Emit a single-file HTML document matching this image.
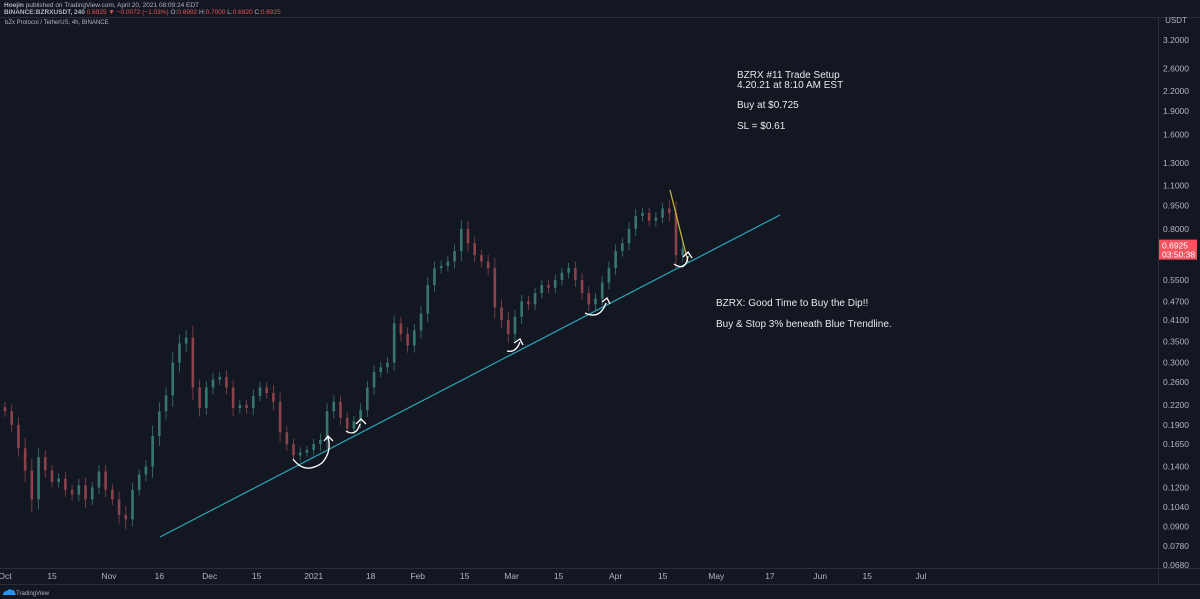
<!DOCTYPE html>
<html><head><meta charset="utf-8">
<style>
html,body{margin:0;padding:0;background:#131722;}
body{width:1200px;height:599px;overflow:hidden;font-family:"Liberation Sans",sans-serif;}
svg{display:block}
</style></head>
<body>
<svg id="chart" width="1200" height="599" viewBox="0 0 1200 599" xmlns="http://www.w3.org/2000/svg">
  <rect x="0" y="0" width="1200" height="599" fill="#131722"/>
  <text x="4" y="7" font-size="6.5" fill="#b2b5be"><tspan font-weight="bold">Hoejin</tspan> published on TradingView.com, April 20, 2021 08:09:24 EDT</text>
  <text x="4" y="14" font-size="6.5" fill="#b2b5be"><tspan font-weight="bold">BINANCE:BZRXUSDT, 240</tspan> <tspan fill="#ef5350">0.6925 ▼ −0.0072 (−1.03%)</tspan> O:<tspan fill="#ef5350">0.6992</tspan> H:<tspan fill="#ef5350">0.7000</tspan> L:<tspan fill="#ef5350">0.6920</tspan> C:<tspan fill="#ef5350">0.6925</tspan></text>
  <line x1="0" y1="17.5" x2="1200" y2="17.5" stroke="#2a2e39"/>
  <text x="5" y="24" font-size="6" fill="#b2b5be">bZx Protocol / TetherUS, 4h, BINANCE</text>
  <line x1="1158.5" y1="18" x2="1158.5" y2="584" stroke="#2a2e39"/>
  <line x1="0" y1="568.5" x2="1200" y2="568.5" stroke="#2a2e39"/>
  <line x1="0" y1="584.5" x2="1200" y2="584.5" stroke="#2a2e39"/>
  <text x="1176" y="23" font-size="8" fill="#b2b5be" text-anchor="middle">USDT</text>
  <g id="yaxis"></g>
  <g id="xaxis"></g>
  <g id="candles"></g>
  <g id="drawings"></g>
  <g>
    <path d="M3 595 q0-4 4-4 q2-3 5-1 q3 0 3 3 q2 1 0 2 z" fill="#2196f3"/>
    <text x="16" y="595" font-size="6" fill="#b2b5be">TradingView</text>
  </g>
</svg>
<script>
const yTicks = [3.2, 2.6, 2.2, 1.9, 1.6, 1.3, 1.1, 0.95, 0.8, 0.55, 0.47, 0.41, 0.35, 0.3, 0.26, 0.22, 0.19, 0.165, 0.14, 0.12, 0.104, 0.09, 0.078, 0.068];
const xLabels = ["Oct","15","Nov","16","Dec","15","2021","18","Feb","15","Mar","15","Apr","15","May","17","Jun","15","Jul"];
const xLabelDays = [0,14,31,46,61,75,92,109,123,137,151,165,182,196,212,228,243,257,273];
const closes = [0.21,0.19,0.16,0.136,0.11,0.15,0.136,0.125,0.128,0.118,0.114,0.122,0.11,0.12,0.135,0.118,0.11,0.098,0.095,0.118,0.132,0.14,0.175,0.21,0.236,0.3,0.345,0.36,0.25,0.215,0.25,0.265,0.27,0.25,0.215,0.22,0.215,0.235,0.25,0.24,0.225,0.18,0.165,0.152,0.155,0.158,0.165,0.17,0.21,0.225,0.2,0.185,0.195,0.212,0.25,0.28,0.29,0.3,0.4,0.37,0.34,0.38,0.43,0.53,0.6,0.61,0.63,0.68,0.8,0.72,0.66,0.63,0.6,0.45,0.41,0.37,0.42,0.47,0.46,0.5,0.53,0.52,0.55,0.58,0.6,0.55,0.5,0.46,0.48,0.54,0.6,0.68,0.72,0.8,0.88,0.9,0.85,0.87,0.93,0.9,0.66,0.6925];
const wickPct = [4,5,6,8,9,7,5,4,4,5,4,5,6,4,5,5,4,6,7,5,4,5,8,7,6,8,7,6,9,6,5,5,4,5,6,4,4,5,4,4,6,7,5,4,4,3,4,5,6,5,5,4,4,5,5,5,4,4,6,5,5,5,6,6,5,4,4,5,7,6,5,4,5,8,6,6,5,5,4,4,4,4,4,4,4,5,5,5,4,5,5,5,4,5,5,4,4,4,4,6,9,5];
const lastPrice = 0.6925;
const daysPerCandle = 2;

const NS = "http://www.w3.org/2000/svg";
function yScale(p){ return 40 + (Math.log(3.2) - Math.log(p)) * 136.3; }
function xScale(d){ return 5 + d * 3.355; }
function mk(tag, attrs, parent){ const e=document.createElementNS(NS,tag); for(const k in attrs) e.setAttribute(k, attrs[k]); parent.appendChild(e); return e; }

const ya = document.getElementById('yaxis');
yTicks.forEach(t=>{
  const e = mk('text',{x:1176,y:yScale(t)+3,'font-size':8.5,fill:'#b2b5be','text-anchor':'middle'},ya);
  
  
  e.textContent = t.toFixed(4);
});
const xa = document.getElementById('xaxis');
xLabels.forEach((l,i)=>{
  const e = mk('text',{x:xScale(xLabelDays[i]),y:579,'font-size':8.5,fill:'#b2b5be','text-anchor':'middle'},xa);
  
  
  e.textContent = l;
});

const cg = document.getElementById('candles');
closes.forEach((c,i)=>{
  const o = i===0 ? c*1.03 : closes[i-1];
  const hi = Math.max(o,c)*(1+wickPct[i]/100);
  const lo = Math.min(o,c)*(1-wickPct[i]/100);
  const up = c>=o;
  const col = up ? '#37776f' : '#8a434b';
  const x = xScale(i*daysPerCandle);
  const w = mk('line',{x1:x,x2:x,y1:yScale(hi),y2:yScale(lo),stroke:col,'stroke-width':0.8},cg);
  
  
  const yt = yScale(Math.max(o,c)), yb = yScale(Math.min(o,c));
  const b = mk('rect',{x:x-1.3,y:yt,width:2.6,height:Math.max(1,yb-yt),fill:col},cg);
  
  
});

const ly = yScale(lastPrice);
const pb = mk('rect',{x:1159,y:ly-9,width:38,height:20,fill:'#f7525f'},ya);


const pt = mk('text',{x:1162,y:ly,'font-size':8.5,fill:'#fff'},ya);


pt.textContent = lastPrice.toFixed(4);
const ct = mk('text',{x:1162,y:ly+9,'font-size':8.5,fill:'#fff'},ya);


ct.textContent = '03:50:38';

const dg = document.getElementById('drawings');
const tl = mk('line',{x1:160,y1:537,x2:780,y2:215,stroke:'#2aa5b8','stroke-width':1.2},dg);


const yl = mk('line',{x1:670,y1:190,x2:688,y2:262,stroke:'#c9b63f','stroke-width':1.2},dg);


const arrows = [
  "M293 459 Q305 475 322 463 Q332 452 328 437 M324 441 L328 436 L333 441",
  "M346 431 Q356 437 360 424 M356 424 L361 419 L366 424",
  "M507 351 Q516 353 520 342 M514 343 L520 339 L523 345",
  "M585 313 Q600 320 606 303 M602 302 L607 298 L610 304",
  "M674 264 Q686 272 688 256 M683 257 L688 252 L692 258"
];
arrows.forEach(d=>{
  const a = mk('path',{d:d,fill:'none',stroke:'#fff','stroke-width':1.3},dg);
  
  
});
const notes = [[737,78,"BZRX #11 Trade Setup"],[737,88,"4.20.21 at 8:10 AM EST"],[737,108,"Buy at $0.725"],[737,129,"SL = $0.61"],[716,306,"BZRX: Good Time to Buy the Dip!!"],[716,327,"Buy & Stop 3% beneath Blue Trendline."]];
notes.forEach(n=>{
  const t = mk('text',{x:n[0],y:n[1],'font-size':10,fill:'#e8e8e8'},dg);
  
  
  t.textContent = n[2];
});
</script>
</body></html>
